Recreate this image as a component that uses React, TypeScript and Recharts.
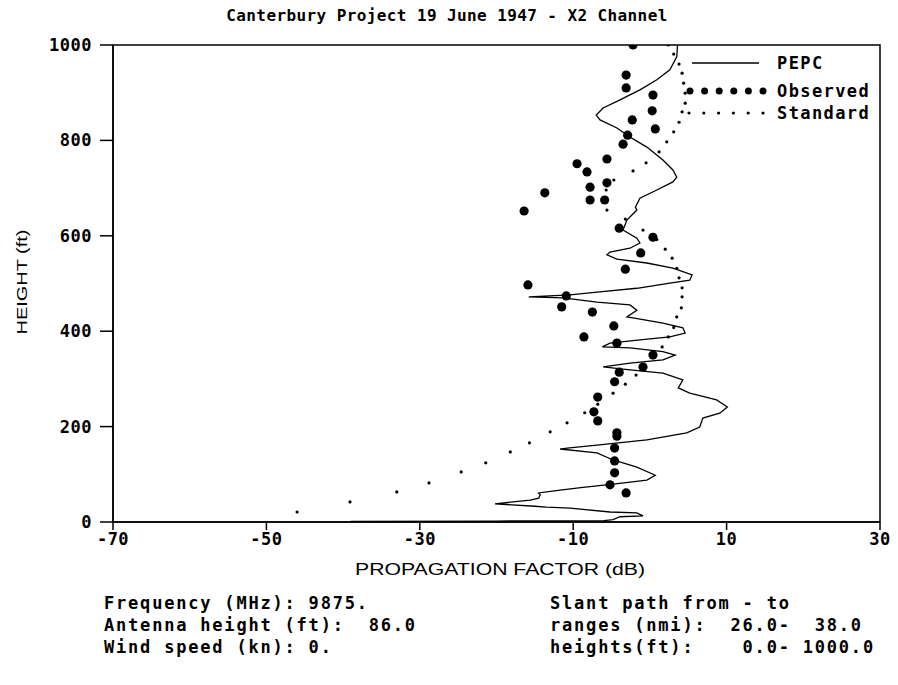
import React from 'react';
import { ScatterChart, Scatter, XAxis, YAxis, ReferenceArea } from 'recharts';

// PEPC curve, read top to bottom (height ft / factor dB)
const pepcHeight = [
  1000, 975, 948, 927, 906, 885, 868, 853, 843, 826, 807, 786, 759, 738, 723, 713, 696, 679, 660, 654,
  633, 612, 595, 585, 574, 566, 560, 551, 543, 532, 518, 507, 501, 490, 482, 476, 472, 470, 461, 455,
  444, 430, 428, 417, 407, 396, 388, 382, 375, 367, 365, 357, 350, 340, 333, 325, 319, 312, 298, 281,
  270, 256, 241, 228, 218, 199, 187, 172, 161, 155, 153, 145, 130, 115, 98, 88, 80, 72, 67, 61,
  57, 50, 46, 38, 33, 31, 29, 21, 19, 13, 11, 5, 3, 2, 1,
];
const pepcFactor = [
  3.6, 3.5, 2.6, 0.9, -1.3, -3.9, -6.1, -7.0, -6.5, -4.3, -2.6, -0.4, 1.7, 3.0, 3.5, 3.0, 0.9, -1.3, -1.9, -1.7,
  -3.0, -3.5, -1.7, -1.3, -2.6, -5.2, -5.6, -4.3, -0.4, 3.0, 5.5, 5.2, 2.6, -1.7, -6.9, -10.4, -15.8, -11.3, -6.9, -2.6,
  -1.7, -3.0, -2.2, 1.7, 4.3, 4.6, 2.6, -1.3, -5.2, -6.2, -2.6, 1.7, 3.3, 1.7, -2.6, -6.1, -2.6, 1.7, 4.3, 3.7,
  5.2, 8.7, 10.1, 9.1, 6.9, 6.5, 4.8, -0.4, -6.9, -10.8, -11.7, -6.9, -4.8, -1.7, 0.7, -0.4, -4.5, -9.0, -11.7, -14.5,
  -14.3, -14.5, -15.6, -20.2, -15.0, -13.5, -10.4, -5.2, -1.7, -0.9, -3.9, -4.8, -6.0, -20.0, -39.0,
];

// observed points
const observedHeight = [
  1000, 937, 910, 895, 862, 843, 824, 811, 792, 761, 751, 734, 711, 702, 690, 675, 675, 652, 616, 597,
  564, 530, 497, 474, 451, 440, 411, 388, 375, 350, 325, 314, 294, 262, 231, 212, 187, 180, 155, 128,
  103, 78, 61,
];
const observedFactor = [
  -2.2, -3.1, -3.1, 0.4, 0.3, -2.3, 0.7, -2.9, -3.5, -5.6, -9.5, -8.2, -5.6, -7.8, -13.7, -7.8, -5.9, -16.4, -4.0, 0.4,
  -1.2, -3.2, -15.9, -10.9, -11.5, -7.5, -4.7, -8.6, -4.3, 0.4, -0.9, -4.0, -4.6, -6.8, -7.3, -6.8, -4.3, -4.3, -4.6, -4.6,
  -4.6, -5.2, -3.1,
];

// standard atmosphere (dotted)
const standardHeight = [
  1000, 981, 960, 941, 920, 899, 878, 860, 838, 818, 797, 776, 753, 736, 717, 696, 675, 654, 635, 612,
  592, 572, 553, 532, 512, 491, 472, 449, 430, 408, 388, 367, 347, 328, 308, 289, 270, 247, 229, 208,
  189, 166, 147, 124, 105, 82, 63, 42, 21,
];
const standardFactor = [
  2.4, 3.1, 3.8, 4.2, 4.4, 4.6, 4.6, 4.2, 3.8, 3.1, 2.2, 1.2, -0.5, -2.2, -4.7, -5.7, -6.0, -5.6, -3.2, -0.9,
  0.9, 2.0, 2.9, 3.5, 3.8, 4.2, 4.2, 4.1, 3.5, 3.1, 2.4, 1.6, 0.6, -0.6, -1.8, -3.2, -4.8, -6.8, -8.5, -10.8,
  -13.0, -15.7, -18.2, -21.4, -24.6, -28.8, -33.0, -39.1, -46.0,
];

const xTicks = [-70, -50, -30, -10, 10, 30];
const yTicks = [0, 200, 400, 600, 800, 1000];

const infoLeft = ['Frequency (MHz): 9875.', 'Antenna height (ft):  86.0', 'Wind speed (kn): 0.'];
const infoRight = ['Slant path from - to', 'ranges (nmi):  26.0-  38.0', 'heights(ft):    0.0- 1000.0'];

const toPoints = (h: number[], f: number[]) => h.map((y, i) => ({ x: f[i], y }));
const pepcData = toPoints(pepcHeight, pepcFactor);
const observedData = toPoints(observedHeight, observedFactor);
const standardData = toPoints(standardHeight, standardFactor);

const MONO = '"DejaVu Sans Mono", "Liberation Mono", monospace';
const PLAIN = '"Liberation Sans", Arial, sans-serif';
const tickStyle = { fontFamily: MONO, fontWeight: 'bold', fontSize: 17, letterSpacing: 0.5, fill: '#000' };

const noDot = () => <g />;
const bigDot = (p: any) => <circle cx={p.cx} cy={p.cy} r={4.6} fill="#000" />;
const smallDot = (p: any) => <circle cx={p.cx} cy={p.cy} r={1.6} fill="#000" />;

export default function App() {
  const infoText = { fontFamily: MONO, fontWeight: 'bold', fontSize: 17, letterSpacing: 1.8, fill: '#000' };
  const legendText = { fontFamily: MONO, fontWeight: 'bold', fontSize: 17, letterSpacing: 1.4, fill: '#000' };
  return (
    <div style={{ position: 'absolute', left: 0, top: 0, width: 898, height: 685, background: '#fff' }}>
      <ScatterChart width={898} height={685} margin={{ top: 45, right: 18, bottom: 133, left: 0 }}>
        <XAxis
          type="number"
          dataKey="x"
          domain={[-70, 30]}
          ticks={xTicks}
          allowDataOverflow
          height={30}
          tickSize={8}
          tickMargin={3}
          axisLine={{ stroke: '#000', strokeWidth: 1.5 }}
          tickLine={{ stroke: '#000', strokeWidth: 1.5 }}
          tick={tickStyle}
        />
        <YAxis
          type="number"
          dataKey="y"
          domain={[0, 1000]}
          ticks={yTicks}
          allowDataOverflow
          width={113}
          tickSize={13}
          tickMargin={8}
          axisLine={{ stroke: '#000', strokeWidth: 1.5 }}
          tickLine={{ stroke: '#000', strokeWidth: 1.5 }}
          tick={tickStyle}
        />
        <ReferenceArea x1={-70} x2={30} y1={0} y2={1000} fill="none" stroke="#000" strokeWidth={1.5} />
        <Scatter name="Standard" data={standardData} shape={smallDot} isAnimationActive={false} />
        <Scatter
          name="PEPC"
          data={pepcData}
          line={{ stroke: '#000', strokeWidth: 1.3 }}
          shape={noDot}
          isAnimationActive={false}
        />
        <Scatter name="Observed" data={observedData} shape={bigDot} isAnimationActive={false} />
      </ScatterChart>

      <svg
        width={898}
        height={685}
        style={{ position: 'absolute', left: 0, top: 0, pointerEvents: 'none' }}
      >
        <text
          x={447}
          y={21}
          textAnchor="middle"
          fontFamily={MONO}
          fontWeight="bold"
          fontSize={16}
          letterSpacing={0.4}
          fill="#000"
        >
          Canterbury Project 19 June 1947 - X2 Channel
        </text>

        {/* legend */}
        <line x1={692} x2={759} y1={63} y2={63} stroke="#000" strokeWidth={1.3} />
        <text x={777} y={69} {...legendText}>PEPC</text>
        {[0, 1, 2, 3, 4, 5].map((i) => (
          <circle key={'o' + i} cx={690 + i * 14.6} cy={91} r={3.5} fill="#000" />
        ))}
        <text x={777} y={97} {...legendText}>Observed</text>
        {[0, 1, 2, 3, 4, 5].map((i) => (
          <circle key={'s' + i} cx={689 + i * 14.8} cy={113} r={1.6} fill="#000" />
        ))}
        <text x={777} y={119} {...legendText}>Standard</text>

        {/* axis titles */}
        <text
          transform="translate(27,282) rotate(-90)"
          textAnchor="middle"
          fontFamily={PLAIN}
          fontSize={15}
          textLength={105}
          lengthAdjust="spacingAndGlyphs"
        >
          HEIGHT (ft)
        </text>
        <text
          x={500}
          y={575}
          textAnchor="middle"
          fontFamily={PLAIN}
          fontSize={17}
          textLength={290}
          lengthAdjust="spacingAndGlyphs"
        >
          PROPAGATION FACTOR (dB)
        </text>

        {infoLeft.map((s, i) => (
          <text key={'l' + i} x={104} y={609 + i * 22} style={{ whiteSpace: 'pre' }} {...infoText}>
            {s}
          </text>
        ))}
        {infoRight.map((s, i) => (
          <text key={'r' + i} x={550} y={609 + i * 22} style={{ whiteSpace: 'pre' }} {...infoText}>
            {s}
          </text>
        ))}
      </svg>
    </div>
  );
}
